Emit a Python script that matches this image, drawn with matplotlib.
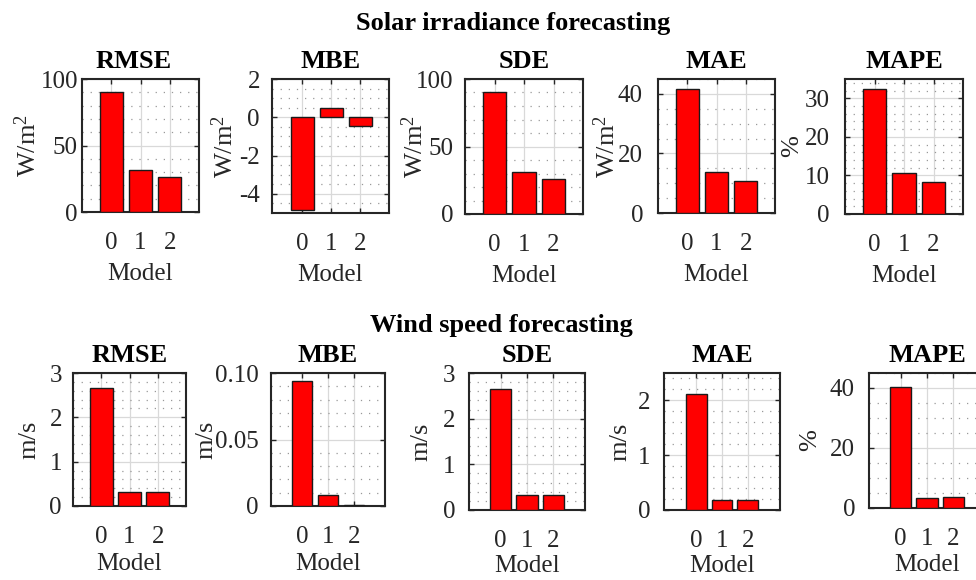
import matplotlib
matplotlib.use("Agg")
import matplotlib.pyplot as plt
from matplotlib.ticker import MultipleLocator

plt.rcParams['font.family'] = ['Liberation Serif', 'DejaVu Serif']
plt.rcParams['mathtext.fontset'] = 'custom'
plt.rcParams['mathtext.rm'] = 'Liberation Serif'
plt.rcParams['mathtext.it'] = 'Liberation Serif:italic'

W, H = 976, 580

# ---------------- data ----------------
models = [0, 1, 2]
metrics = ["RMSE", "MBE", "SDE", "MAE", "MAPE"]

solar_rmse = [90.5, 31.8, 26.4]
solar_mbe = [-4.84, 0.47, -0.47]
solar_sde = [90.3, 31.3, 26.1]
solar_mae = [41.8, 13.7, 10.7]
solar_mape = [32.4, 10.6, 8.3]

wind_rmse = [2.66, 0.32, 0.32]
wind_mbe = [0.0942, 0.0085, 0.0005]
wind_sde = [2.65, 0.32, 0.32]
wind_mae = [2.11, 0.18, 0.19]
wind_mape = [40.3, 3.5, 3.7]

solar_units = ["W/m$^2$", "W/m$^2$", "W/m$^2$", "W/m$^2$", "%"]
wind_units = ["m/s", "m/s", "m/s", "m/s", "%"]

solar_yticks = [[0, 50, 100], [-4, -2, 0, 2], [0, 50, 100], [0, 20, 40], [0, 10, 20, 30]]
solar_yticklabels = [["0", "50", "100"], ["-4", "-2", "0", "2"], ["0", "50", "100"],
                     ["0", "20", "40"], ["0", "10", "20", "30"]]
wind_yticks = [[0, 1, 2, 3], [0, 0.05, 0.10], [0, 1, 2, 3], [0, 1, 2], [0, 20, 40]]
wind_yticklabels = [["0", "1", "2", "3"], ["0", "0.05", "0.10"], ["0", "1", "2", "3"],
                    ["0", "1", "2"], ["0", "20", "40"]]

solar_data = [solar_rmse, solar_mbe, solar_sde, solar_mae, solar_mape]
wind_data = [wind_rmse, wind_mbe, wind_sde, wind_mae, wind_mape]

# ---------------- layout (pixels) ----------------
# (left, right, top, bottom, xlim, ylim, minor step, ylabel baseline x, tick pad px,
#  title x, xlabel baseline offset)
solar_layout = [
    (82, 199, 79, 212, (-1, 3), (0, 100), 10, 36, 4, 134, 68),
    (272, 389, 79, 213, (-1.05, 3.0), (-5, 2), 0.5, 233, 12, None, 68),
    (465, 583, 79, 214, (-1, 3), (0, 100), 10, 423, 12, None, 68),
    (658, 775, 79, 213, (-1, 3), (0, 45), 5, 615, 15, None, 68),
    (845, 963, 79, 214, (-1, 3), (0, 35), 2, 798, 15, None, 68),
]
wind_layout = [
    (73, 186, 373, 506, (-1, 3), (0, 3), 0.2, 35, 11, None, 64),
    (271, 385, 373, 506, (-1.2, 3.2), (0, 0.1), 0.01, 212, 12.5, None, 64),
    (469, 585, 373, 510, (-1.2, 3.2), (0, 3), 0.2, 427, 13.5, None, 62),
    (664, 780, 373, 510, (-1.25, 3.25), (0, 2.5), 0.2, 626, 13.5, None, 62),
    (869, 985, 373, 508, (-1.2, 3.2), (0, 45), 5, 816, 14, None, 63),
]

PX = 72.0 / 100.0  # points per pixel at dpi 100
TICK_FS = 18
LABEL_FS = 18
YLABEL_FS = 19
TITLE_FS = 19
SUP_FS = 19

fig = plt.figure(figsize=(W / 100, H / 100), dpi=100)


def make_axes(lay, data, title, unit, yt, ytl):
    l, r, t, b, xlim, ylim, mstep, ylx, pad, tx, xlo = lay
    ax = fig.add_axes([l / W, 1 - b / H, (r - l) / W, (b - t) / H])
    ax.set_axisbelow(True)
    ax.bar(models, data, width=0.8, color="#ff0000", edgecolor="#1a1a1a",
           linewidth=1.0, zorder=3)
    ax.set_xlim(*xlim)
    ax.set_ylim(*ylim)
    ax.set_xticks(models)
    ax.set_xticklabels([str(m) for m in models])
    ax.set_yticks(yt)
    ax.set_yticklabels(ytl)
    ax.yaxis.set_minor_locator(MultipleLocator(mstep))
    ax.grid(True, which="major", color="#d9d9d9", linewidth=0.9, linestyle="-")
    ax.grid(True, which="minor", axis="y", color="#999999", linewidth=0.9,
            linestyle=(0, (1, 5.5)))
    ax.tick_params(which="major", direction="in", length=3.5, width=1.0,
                   top=True, right=True, color="#262626",
                   labelsize=TICK_FS, labelcolor="#262626")
    ax.tick_params(axis="y", which="major", pad=pad * PX)
    ax.tick_params(axis="x", which="major", pad=20 * PX)
    ax.tick_params(which="minor", length=0)
    for s in ax.spines.values():
        s.set_linewidth(1.5)
        s.set_color("#262626")
    height = b - t
    width = r - l
    tt = ax.set_title(title, fontsize=TITLE_FS, fontweight="bold", pad=11.5 * PX)
    if tx is not None:
        tt.set_x((tx - l) / width)
    ax.set_xlabel("Model", fontsize=LABEL_FS, color="#262626")
    ax.xaxis.label.set_va("baseline")
    ax.xaxis.set_label_coords(0.5, -xlo / height)
    ax.set_ylabel(unit, fontsize=YLABEL_FS, color="#262626")
    ax.yaxis.label.set_va("baseline")
    ax.yaxis.set_label_coords((ylx - l) / width, 0.5)
    return ax


for i in range(5):
    make_axes(solar_layout[i], solar_data[i], metrics[i], solar_units[i],
              solar_yticks[i], solar_yticklabels[i])
    make_axes(wind_layout[i], wind_data[i], metrics[i], wind_units[i],
              wind_yticks[i], wind_yticklabels[i])

fig.text(513 / W, 1 - 30 / H, "Solar irradiance forecasting", fontsize=SUP_FS,
         fontweight="bold", ha="center", va="baseline")
fig.text(501 / W, 1 - 332 / H, "Wind speed forecasting", fontsize=SUP_FS,
         fontweight="bold", ha="center", va="baseline")

fig.savefig("out.png", dpi=100)
